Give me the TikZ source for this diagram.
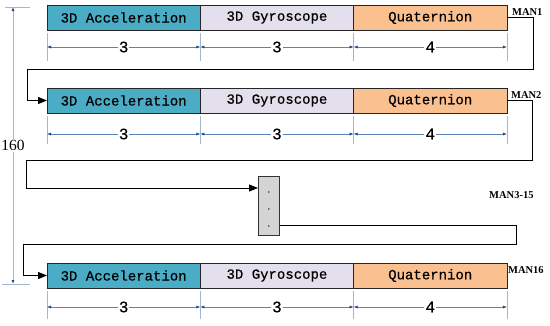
\documentclass[tikz,border=0pt]{standalone}
\usepackage{fontspec}
\setmainfont{Liberation Serif}
\setmonofont{Liberation Mono}
\newfontfamily\segfont{Liberation Mono}[UprightFeatures={FakeBold=0.6}]
\usepackage{tikz}
\usetikzlibrary{arrows.meta, positioning, calc}
\definecolor{accblue}{HTML}{4BACC6}
\definecolor{gyrolilac}{HTML}{E4DFEC}
\definecolor{quatpeach}{HTML}{FAC090}
\definecolor{dimblue}{HTML}{5B84B5}
\definecolor{dimpale}{HTML}{A3B7D2}
\definecolor{dimtip}{HTML}{1F497D}
\tikzset{
  segblock/.style={rectangle, draw=black!85, line width=0.8pt, outer sep=0pt,
                   minimum width=153.3pt, minimum height=25pt, inner sep=0pt,
                   font=\fontsize{14}{14}\segfont},
  accblock/.style={segblock, fill=accblue},
  gyroblock/.style={segblock, fill=gyrolilac},
  quatblock/.style={segblock, fill=quatpeach},
  dotsblock/.style={rectangle, draw=black!80, line width=0.8pt, fill=black!17,
                    minimum width=21pt, minimum height=59pt, inner sep=0pt},
  manlabel/.style={font=\fontsize{10.5}{11}\selectfont\bfseries, inner sep=0pt},
  flow/.style={-{Triangle[length=9pt,width=7pt]}, line width=0.8pt},
  extline/.style={draw=dimpale, line width=0.6pt},
  dimarrow/.style={{Latex[length=4pt,width=3pt,color=dimtip]}-{Latex[length=4pt,width=3pt,color=dimtip]},
                   draw=dimblue, line width=0.5pt},
  dimlabel/.style={fill=white, inner sep=1pt, font=\fontsize{16}{16}\segfont}
}
% extension lines and widths under one row of segments
\newcommand{\segdims}[2]{%
  \foreach \p in {acc#1.south west, gyro#1.south west, quat#1.south west, quat#1.south east}
    \draw[extline] ($(\p)+(0,3)$) -- ++(0,28);
  \draw[dimarrow] ($(acc#1.south west)+(0,#2)$) -- node[dimlabel]{3} ($(gyro#1.south west)+(0,#2)$);
  \draw[dimarrow] ($(gyro#1.south west)+(0,#2)$) -- node[dimlabel]{3} ($(quat#1.south west)+(0,#2)$);
  \draw[dimarrow] ($(quat#1.south west)+(0,#2)$) -- node[dimlabel]{4} ($(quat#1.south east)+(0,#2)$);
}

\begin{document}
\begin{tikzpicture}[x=1pt, y=-1pt]
  \useasboundingbox (0,0) rectangle (550,325);

  % MAN1
  \node[accblock, anchor=north west] (acc1) at (47,5) {3D Acceleration};
  \node[gyroblock, right=0pt of acc1] (gyro1) {3D Gyroscope};
  \node[quatblock, right=0pt of gyro1] (quat1) {Quaternion};
  \node[manlabel, anchor=north west] (man1) at ($(quat1.north east)+(5,3)$) {MAN1};
  \segdims{1}{17}

  % MAN2
  \node[accblock, below=58pt of acc1] (acc2) {3D Acceleration};
  \node[gyroblock, right=0pt of acc2] (gyro2) {3D Gyroscope};
  \node[quatblock, right=0pt of gyro2] (quat2) {Quaternion};
  \node[manlabel, anchor=north west] (man2) at ($(quat2.north east)+(4,3)$) {MAN2};
  \segdims{2}{21}

  % MAN3-15
  \node[dotsblock, anchor=north west] (dots) at (258,176) {};
  \foreach \k in {16,33,50}
    \fill ($(dots.north)+(0,\k)$) circle (0.8pt);
  \node[manlabel, anchor=west] (man315) at (489,195) {MAN3-15};

  % MAN16
  \node[accblock, below=150pt of acc2] (acc3) {3D Acceleration};
  \node[gyroblock, right=0pt of acc3] (gyro3) {3D Gyroscope};
  \node[quatblock, right=0pt of gyro3] (quat3) {Quaternion};
  \node[manlabel, anchor=north west] (man16) at ($(quat3.north east)+(1,3)$) {MAN16};
  \segdims{3}{19}

  % connectors between the frames
  \coordinate (turn1) at (533,69);
  \coordinate (turn2) at (532,160);
  \coordinate (turn3) at (516,244);
  \coordinate (dotsin) at ($(dots.north west)+(0,12)$);
  \coordinate (dotsout) at ($(dots.south east)+(0,-10)$);
  \draw[flow] (quat1.east) -| (turn1) -| ($(acc2.west)+(-20,0)$) -- (acc2.west);
  \draw[flow] (quat2.east) -| (turn2) -| ($(dotsin -| acc2.west)+(-21,0)$) -- (dotsin);
  \draw[flow] (dotsout) -| (turn3) -| ($(acc3.west)+(-24,0)$) -- (acc3.west);

  % total length
  \coordinate (toptick) at (13,7);
  \coordinate (bottick) at (13,284);
  \draw[extline] ($(toptick)+(-8,0)$) -- ($(toptick)+(17,0)$);
  \draw[extline] ($(bottick)+(-11,0)$) -- ($(bottick)+(17,0)$);
  \draw[dimarrow, draw=dimpale, line width=0.8pt] (toptick) -- node[dimlabel, font=\fontsize{15.5}{16}\selectfont] (total) {160} (bottick);
\end{tikzpicture}
\end{document}
